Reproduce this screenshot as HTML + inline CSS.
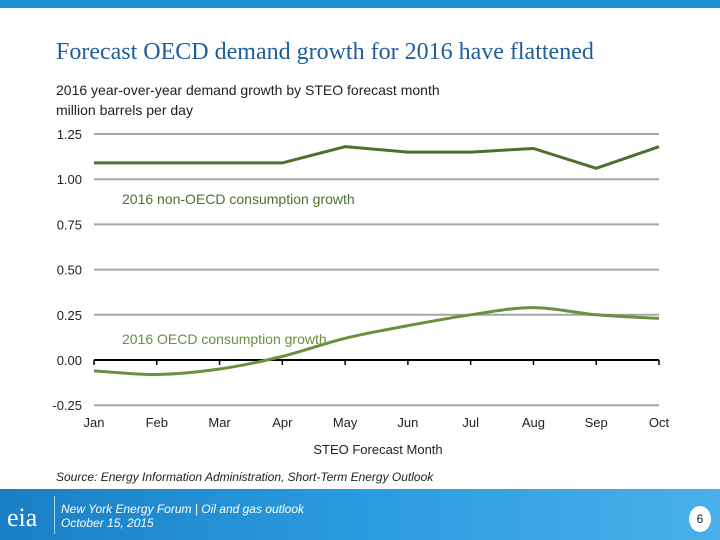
<!DOCTYPE html>
<html><head><meta charset="utf-8"><style>
body{margin:0;width:720px;height:540px;background:#fff;font-family:"Liberation Sans",sans-serif;position:relative;overflow:hidden}
.abs{position:absolute}
</style></head><body>
<div class="abs" style="left:0;top:0;width:720px;height:8px;background:#1e8fd0"></div>
<div class="abs" style="left:56px;top:39px;font-family:'Liberation Serif',serif;font-size:24px;color:#1f5d9e">Forecast OECD demand growth for 2016 have flattened</div>
<div class="abs" style="left:56px;top:80px;font-size:14px;color:#222;line-height:20px">2016 year-over-year demand growth by STEO forecast month<br>million barrels per day</div>
<svg class="abs" style="left:0;top:0" width="720" height="540" id="chart"></svg>
<div class="abs" style="left:56px;top:470px;font-size:12px;font-style:italic;color:#222">Source: Energy Information Administration, Short-Term Energy Outlook</div>
<div class="abs" style="left:0;top:489px;width:720px;height:51px;background:linear-gradient(90deg,#1a7fc4,#2a9be0 50%,#4ab0ea)"></div>
<div class="abs" style="left:7px;top:503px;font-family:'Liberation Serif',serif;font-size:26px;color:#fff">eia</div>
<div class="abs" style="left:54px;top:496px;width:1px;height:38px;background:#9fd3f3"></div>
<div class="abs" style="left:61px;top:502px;font-size:12px;font-style:italic;color:#fff;line-height:14px">New York Energy Forum | Oil and gas outlook<br>October 15, 2015</div>
<div class="abs" style="left:689px;top:506px;width:22px;height:26px;border-radius:50%;background:#fff;color:#222;font-size:12px;text-align:center;line-height:26px">6</div>
<script>
const months=["Jan","Feb","Mar","Apr","May","Jun","Jul","Aug","Sep","Oct"];
const nonOecd=[1.09,1.09,1.09,1.09,1.18,1.15,1.15,1.17,1.06,1.18];
const oecd=[-0.06,-0.08,-0.05,0.02,0.12,0.19,0.25,0.29,0.25,0.23];
const yTicks=[1.25,1.00,0.75,0.50,0.25,0.00,-0.25];
const yTickLabels=["1.25","1.00","0.75","0.50","0.25","0.00","-0.25"];
const NS="http://www.w3.org/2000/svg",svg=document.getElementById('chart');
const X=i=>94+i*(659-94)/9, Y=v=>360-v*180.8;
function mk(t,a,txt){const e=document.createElementNS(NS,t);for(const k in a)e.setAttribute(k,a[k]);if(txt!=null)e.textContent=txt;svg.appendChild(e);return e;}
yTicks.forEach((v,i)=>{
 if(v!==0){const g=mk('line',{x1:94,x2:659,y1:Y(v),y2:Y(v),stroke:'#a6a6a6','stroke-width':2});
 
 }
 const t=mk('text',{x:82,y:Y(v)+5,'text-anchor':'end','font-size':13,fill:'#222','font-family':'Liberation Sans'},yTickLabels[i]);
 
 
});
const ax=mk('line',{x1:94,x2:659,y1:Y(0),y2:Y(0),stroke:'#000','stroke-width':2});


months.forEach((m,i)=>{
 const tk=mk('line',{x1:X(i),x2:X(i),y1:Y(0),y2:Y(0)+5,stroke:'#000','stroke-width':1.5});
 
 
 const t=mk('text',{x:X(i),y:427,'text-anchor':'middle','font-size':13,fill:'#222','font-family':'Liberation Sans'},m);
 
 
});
function smooth(vals){let p=vals.map((v,i)=>[X(i),Y(v)]);let d=`M${p[0][0]},${p[0][1]}`;
 for(let i=0;i<p.length-1;i++){const p0=p[i-1]||p[i],p1=p[i],p2=p[i+1],p3=p[i+2]||p2;
 d+=` C${p1[0]+(p2[0]-p0[0])/6},${p1[1]+(p2[1]-p0[1])/6} ${p2[0]-(p3[0]-p1[0])/6},${p2[1]-(p3[1]-p1[1])/6} ${p2[0]},${p2[1]}`;}return d;}
const l1=mk('polyline',{points:nonOecd.map((v,i)=>X(i)+','+Y(v)).join(' '),fill:'none',stroke:'#4f6f2f','stroke-width':3});


const l2=mk('path',{d:smooth(oecd),fill:'none',stroke:'#6a8f3e','stroke-width':3});


const a1=mk('text',{x:122,y:204,'font-size':14,fill:'#4f6f2f','font-family':'Liberation Sans'},'2016 non-OECD consumption growth');


const a2=mk('text',{x:122,y:344,'font-size':14,fill:'#6a8f3e','font-family':'Liberation Sans'},'2016 OECD consumption growth');


const xt=mk('text',{x:378,y:454,'text-anchor':'middle','font-size':13,fill:'#222','font-family':'Liberation Sans'},'STEO Forecast Month');


</script>
</body></html>
